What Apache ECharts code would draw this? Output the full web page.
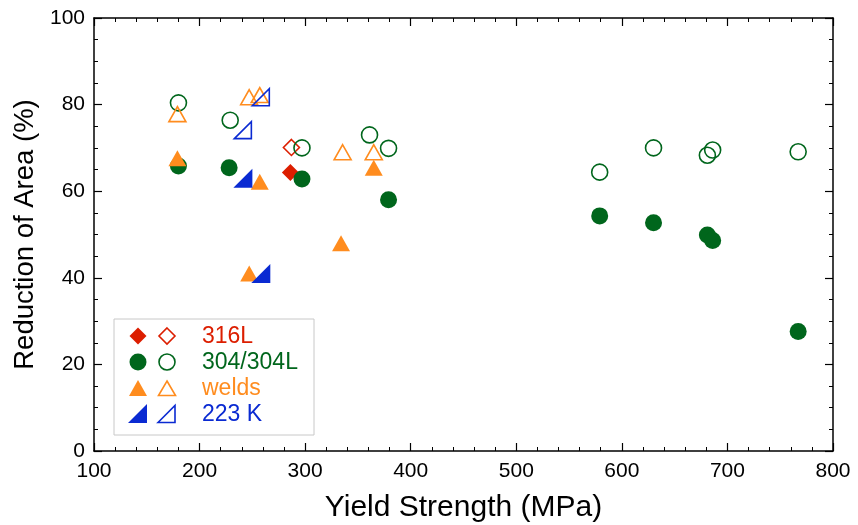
<!DOCTYPE html>
<html><head><meta charset="utf-8">
<script src="https://cdn.jsdelivr.net/npm/echarts@6/dist/echarts.min.js"></script>
<style>html,body{margin:0;padding:0;background:#fff}#c{width:858px;height:525px}</style>
</head><body><div id="c"></div>
<script>
// Data: [yield strength (MPa), reduction of area (%)]
const s316Solid = [[286, 64.3]];
const s316Open = [[287, 70.1]];
const s304Solid = [[180, 65.8], [228, 65.4], [297, 62.8], [379, 58.0], [579, 54.3], [630, 52.7], [681, 49.9], [686, 48.6], [767, 27.6]];
const s304Open = [[180, 80.4], [229, 76.4], [297, 70.0], [361, 73.0], [379, 69.9], [579, 64.4], [630, 70.0], [681, 68.3], [686, 69.5], [767, 69.1]];
const weldSolid = [[179, 67.6], [257, 62.2], [365, 65.4], [334, 48.0], [247, 41.0]];
const weldOpen = [[179, 77.8], [247, 81.7], [257, 82.2], [335.5, 69.0], [365, 69.0]];
const k223Solid = [[241, 63.0], [258, 41.0]];
const k223Open = [[241, 74.1], [258, 81.7]];
const legendLabels = ['316L', '304/304L', 'welds', '223 K'];

const RED = '#dc1e00', GREEN = '#00661c', ORANGE = '#ff8c1e', BLUE = '#0a2ad2';
const RT = 'path://M0,10L10,0L10,10Z';
const FONT = '"Liberation Sans", Arial, sans-serif';

function solid(name, data, symbol, size, color, z) {
  return { name, type: 'scatter', data, symbol, symbolSize: size, z,
    itemStyle: { color, opacity: 1 }, emphasis: { disabled: true } };
}
function open(name, data, symbol, size, color, z) {
  return { name, type: 'scatter', data, symbol, symbolSize: size, z,
    itemStyle: { color: 'rgba(0,0,0,0)', borderColor: color, borderWidth: 1.6, opacity: 1 },
    emphasis: { disabled: true } };
}

const chart = echarts.init(document.getElementById('c'), null, { renderer: 'canvas' });
const axisCommon = {
  axisLine: { show: true, onZero: false, lineStyle: { color: '#000', width: 1.5 } },
  axisTick: { show: true, inside: true, length: 8, lineStyle: { color: '#000', width: 1.2 } },
  minorTick: { show: true, length: 4, lineStyle: { color: '#000', width: 1 } },
  splitLine: { show: false }
};
const lx = 114, ly = 319;
const legendGraphics = [
  { type: 'rect', shape: { x: lx, y: ly, width: 200, height: 116 }, style: { fill: '#fff', stroke: '#c8c8c8', lineWidth: 1 }, z: 100 }
];
const rowY = [337, 363, 389, 415];
const rowColors = [RED, GREEN, ORANGE, BLUE];
legendGraphics.push(
  { type: 'polygon', shape: { points: [[138, 327.5], [146.5, 336], [138, 344.5], [129.5, 336]] }, style: { fill: RED }, z: 101 },
  { type: 'polygon', shape: { points: [[167, 328], [175, 336], [167, 344], [159, 336]] }, style: { fill: 'none', stroke: RED, lineWidth: 1.6 }, z: 101 },
  { type: 'circle', shape: { cx: 138, cy: 362, r: 8.5 }, style: { fill: GREEN }, z: 101 },
  { type: 'circle', shape: { cx: 167, cy: 362, r: 8 }, style: { fill: 'none', stroke: GREEN, lineWidth: 1.6 }, z: 101 },
  { type: 'polygon', shape: { points: [[138, 380], [147, 396], [129, 396]] }, style: { fill: ORANGE }, z: 101 },
  { type: 'polygon', shape: { points: [[167, 381], [175.5, 395.5], [158.5, 395.5]] }, style: { fill: 'none', stroke: ORANGE, lineWidth: 1.6 }, z: 101 },
  { type: 'polygon', shape: { points: [[128, 423], [147, 404], [147, 423]] }, style: { fill: BLUE }, z: 101 },
  { type: 'polygon', shape: { points: [[158, 422.5], [175, 405.5], [175, 422.5]] }, style: { fill: 'none', stroke: BLUE, lineWidth: 1.6 }, z: 101 }
);
legendLabels.forEach((t, i) => {
  legendGraphics.push({ type: 'text', x: 202, y: rowY[i], z: 101,
    style: { text: t, fill: rowColors[i], font: '23px ' + FONT, textVerticalAlign: 'middle', verticalAlign: 'middle' } });
});

chart.setOption({
  animation: false,
  backgroundColor: '#fff',
  grid: { left: 94, top: 18, right: 25, bottom: 74, containLabel: false, outerBoundsMode: 'none' },
  xAxis: [
    Object.assign({}, axisCommon, {
      type: 'value', min: 100, max: 800, interval: 100, minorTick: Object.assign({}, axisCommon.minorTick, { splitNumber: 5 }),
      position: 'bottom',
      name: 'Yield Strength (MPa)', nameLocation: 'middle', nameGap: 42,
      nameTextStyle: { fontSize: 30, color: '#000', fontFamily: FONT },
      axisLabel: { fontSize: 21, color: '#000', fontFamily: FONT, margin: 10 }
    }),
    Object.assign({}, axisCommon, {
      type: 'value', min: 100, max: 800, interval: 100, minorTick: Object.assign({}, axisCommon.minorTick, { splitNumber: 5 }),
      position: 'top', axisLabel: { show: false }
    })
  ],
  yAxis: [
    Object.assign({}, axisCommon, {
      type: 'value', min: 0, max: 100, interval: 20, minorTick: Object.assign({}, axisCommon.minorTick, { splitNumber: 4 }),
      position: 'left',
      name: 'Reduction of Area (%)', nameLocation: 'middle', nameGap: 48,
      nameTextStyle: { fontSize: 27.5, color: '#000', fontFamily: FONT },
      axisLabel: { fontSize: 21, color: '#000', fontFamily: FONT, margin: 9 }
    }),
    Object.assign({}, axisCommon, {
      type: 'value', min: 0, max: 100, interval: 20, minorTick: Object.assign({}, axisCommon.minorTick, { splitNumber: 4 }),
      position: 'right', axisLabel: { show: false }
    })
  ],
  series: [
    solid('316L', s316Solid, 'diamond', 17, RED, 2),
    open('316L open', s316Open, 'diamond', 16, RED, 2),
    solid('304/304L', s304Solid, 'circle', 17, GREEN, 3),
    open('304/304L open', s304Open, 'circle', 16, GREEN, 3),
    solid('welds', weldSolid, 'triangle', [18, 16], ORANGE, 4),
    open('welds open', weldOpen, 'triangle', [17, 15], ORANGE, 4),
    solid('223 K', k223Solid, RT, 19, BLUE, 5),
    open('223 K open', k223Open, RT, 17, BLUE, 5)
  ],
  graphic: legendGraphics
});
</script></body></html>
